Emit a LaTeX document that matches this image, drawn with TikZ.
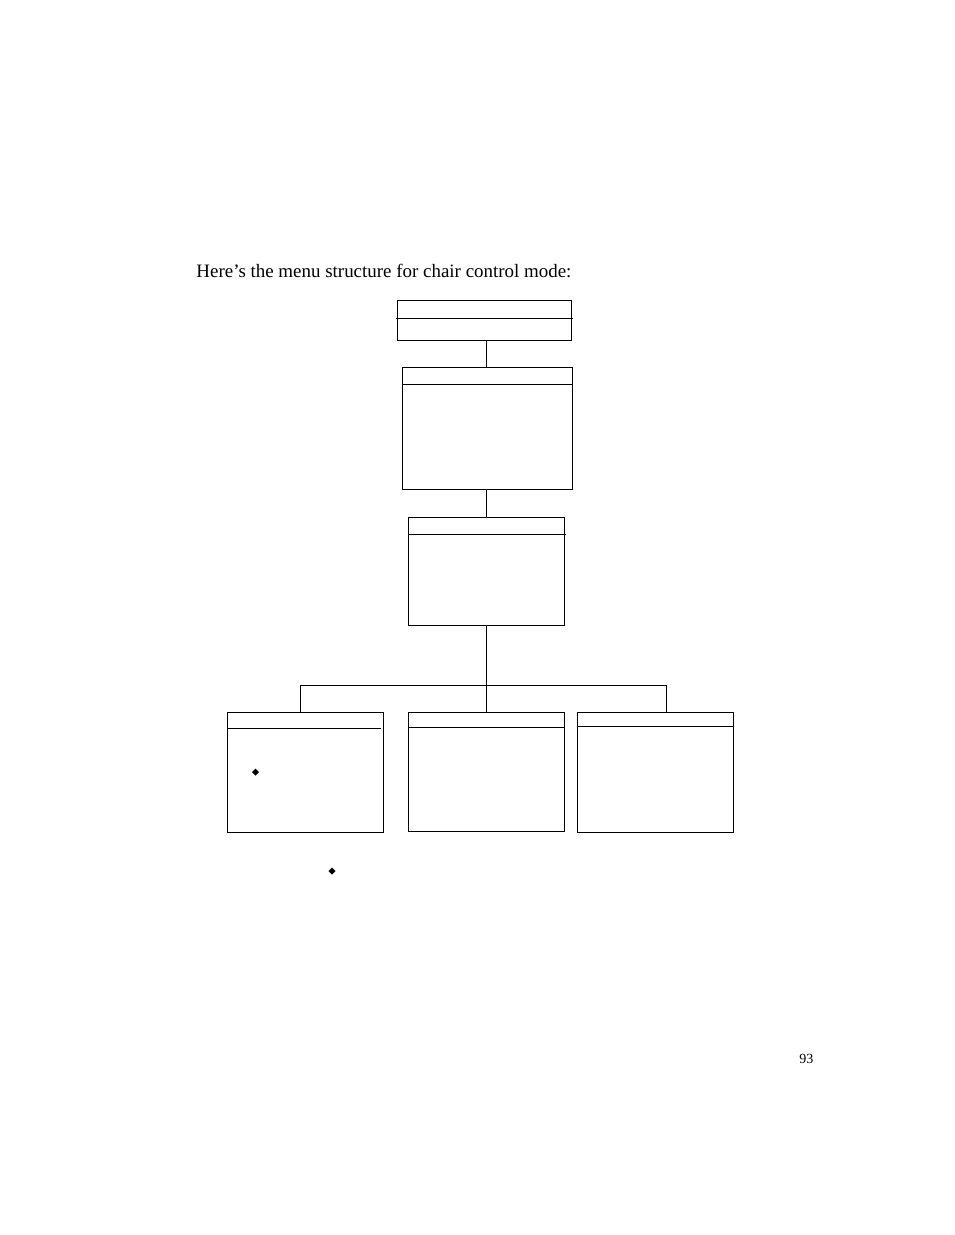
\documentclass[tikz,border=0pt]{standalone}
\usepackage{fontspec}
\setmainfont{Liberation Serif}
\usepackage{graphicx}
\begin{document}
\begin{tikzpicture}[x=1pt,y=-1pt,line width=0.9pt,
  menubox/.style={draw,rectangle,inner sep=0pt,outer sep=0pt},
  link/.style={draw,line width=0.9pt},
  bullet/.style={fill=black}]
\useasboundingbox (0,0) rectangle (954,1235);
\fill[white] (0,0) rectangle (954,1235);

\node[anchor=base west,inner sep=0pt] (title) at (196,277)
  {\resizebox{375pt}{!}{Here’s the menu structure for chair control mode:}};

% boxes
\node[menubox,minimum width=174pt,minimum height=40pt] (b1) at (484,320) {};
\draw (396,318) -- (573,318);
\node[menubox,minimum width=170pt,minimum height=122pt] (b2) at (487,428) {};
\draw (402,384) -- (572,384);
\node[menubox,minimum width=156pt,minimum height=108pt] (b3) at (486,571) {};
\draw (408,534) -- (566,534);
\node[menubox,minimum width=156pt,minimum height=120pt] (b4) at (305,772) {};
\draw (227,728) -- (381,728);
\node[menubox,minimum width=156pt,minimum height=119pt] (b5) at (486,771.5) {};
\draw (408,727) -- (564,727);
\node[menubox,minimum width=156pt,minimum height=120pt] (b6) at (655,772) {};
\draw (577,726) -- (733,726);

% connectors
\coordinate (j) at (486,685);
\coordinate (jl) at (300.5,685);
\coordinate (jr) at (666.5,685);
\draw[link] (b1.south -| 486,0) -- (b2.north -| 486,0);
\draw[link] (b2.south -| 486,0) -- (b3.north -| 486,0);
\draw[link] (b3.south) -- (j);
\draw[link] (jl) -- (jr);
\draw[link] (jl) -- (jl |- b4.north);
\draw[link] (j) -- (b5.north);
\draw[link] (jr) -- (jr |- b6.north);

% bullets
\fill[bullet] (255.5,768.5) -- (259,772) -- (255.5,775.5) -- (252,772) -- cycle;
\fill[bullet] (332,867.5) -- (335.5,871) -- (332,874.5) -- (328.5,871) -- cycle;

\node[anchor=base west,inner sep=0pt,font=\fontsize{14}{16}\selectfont] (page) at (799,1063) {93};
\end{tikzpicture}
\end{document}
